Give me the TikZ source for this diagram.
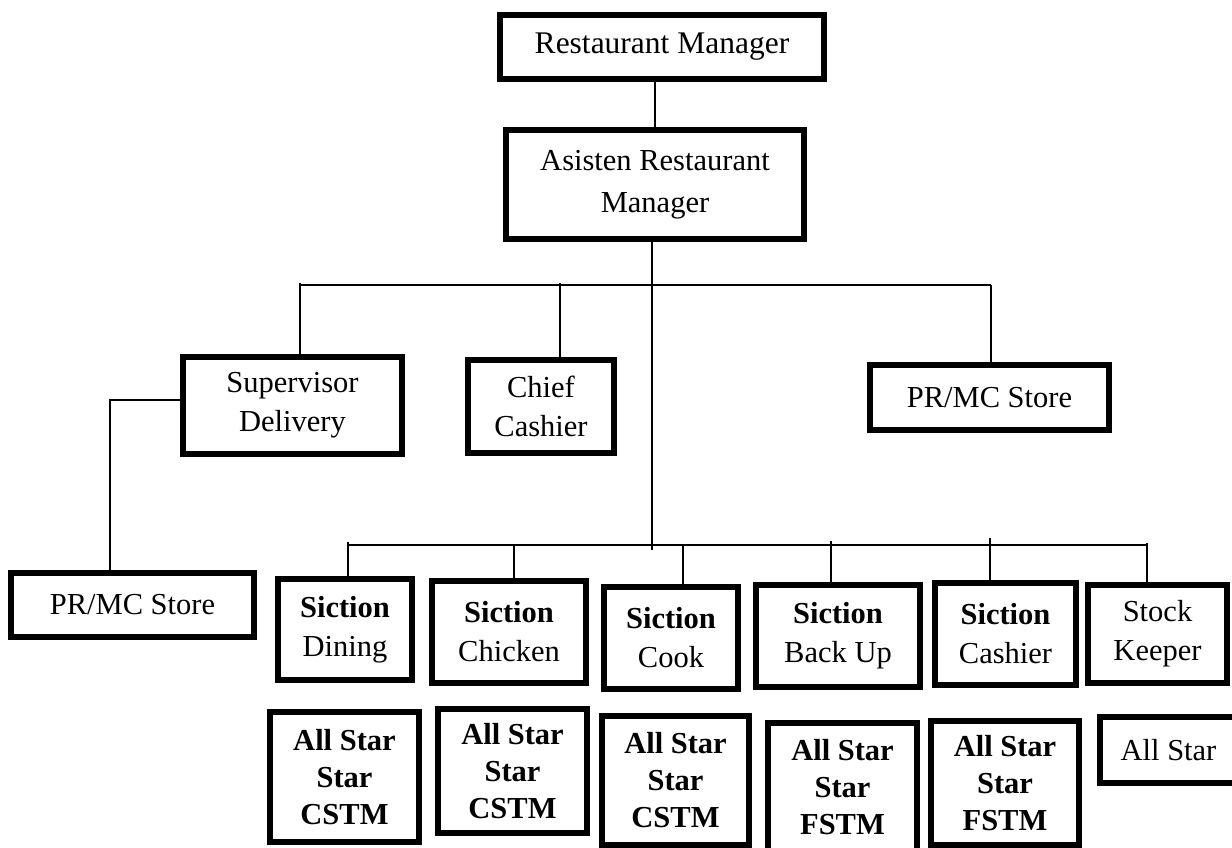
\documentclass[tikz,border=0pt]{standalone}
\usepackage{fontspec}
\setmainfont{Liberation Serif}
\begin{document}
\begin{tikzpicture}[x=1pt,y=-1pt,
  box/.style={draw=black,line width=6pt,fill=white,align=center,inner sep=0pt,
    font=\fontsize{30.5}{39}\selectfont},
  boldbox/.style={box,font=\fontsize{30.5}{37}\bfseries},
  conn/.style={line width=2pt}]
\useasboundingbox (0,0) rectangle (1232,847);
% nodes
\node[box,minimum width=324,minimum height=64,font=\fontsize{31.5}{37}\selectfont] (rm) at (662,47) {Restaurant Manager};
\node[box,minimum width=298,minimum height=109,font=\fontsize{30.5}{42}\selectfont] (arm) at (655,184.5) {Asisten Restaurant\\Manager};
\node[box,minimum width=219,minimum height=97] (sd) at (292.5,405.5) {Supervisor\\Delivery};
\node[box,minimum width=146,minimum height=93] (cc) at (541,406.5) {Chief\\Cashier};
\node[box,minimum width=239,minimum height=65] (prr) at (989.5,397.5) {PR/MC Store};
\node[box,minimum width=243,minimum height=64] (prl) at (132.5,605) {PR/MC Store};
\node[box,minimum width=134,minimum height=101] (sdin) at (345,629.5) {\textbf{Siction}\\Dining};
\node[box,minimum width=154,minimum height=102] (schk) at (509,632) {\textbf{Siction}\\Chicken};
\node[box,minimum width=134,minimum height=102] (scook) at (671,638) {\textbf{Siction}\\Cook};
\node[box,minimum width=164,minimum height=102] (sbu) at (838,636) {\textbf{Siction}\\Back Up};
\node[box,minimum width=141,minimum height=102] (scash) at (1005.5,634) {\textbf{Siction}\\Cashier};
\node[box,minimum width=139,minimum height=98] (sk) at (1157.5,634) {Stock\\Keeper};
\node[boldbox,minimum width=149,minimum height=130] (a1) at (344.5,777) {All Star\\Star\\CSTM};
\node[boldbox,minimum width=149,minimum height=124] (a2) at (512.5,771) {All Star\\Star\\CSTM};
\node[boldbox,minimum width=147,minimum height=129] (a3) at (675.5,780.5) {All Star\\Star\\CSTM};
\node[boldbox,minimum width=149,minimum height=129] (f1) at (842.5,787.5) {All Star\\Star\\FSTM};
\node[boldbox,minimum width=148,minimum height=124] (f2) at (1005,783) {All Star\\Star\\FSTM};
\node[box,minimum width=137,minimum height=66] (as) at (1168.5,750) {All Star};
% bus coordinates
\coordinate (b1l) at (300,283);
\coordinate (b1r) at (991,285);
\coordinate (t1) at (652,285);
\coordinate (t2) at (652,550);
\coordinate (c1) at (560,283);
\coordinate (e1) at (110,400);
\coordinate (b2l) at (348,542);
\coordinate (b2r) at (1147,543);
\coordinate (d2) at (514,545);
\coordinate (d3) at (683,545);
\coordinate (d4) at (831,541);
\coordinate (d5) at (990,538);
% connectors
\draw[conn] (rm.south -| arm.north) -- (arm.north);
\draw[conn] (arm.south -| t1) -- (t2);
\draw[conn] (300,285) -- (b1r);
\draw[conn] (b1l) -- (b1l |- sd.north);
\draw[conn] (c1) -- (c1 |- cc.north);
\draw[conn] (b1r) -- (b1r |- prr.north);
\draw[conn] (sd.west |- e1) -- (e1) -- (e1 |- prl.north);
\draw[conn] (348,545) -- (1147,545);
\draw[conn] (b2l) -- (b2l |- sdin.north);
\draw[conn] (d2) -- (d2 |- schk.north);
\draw[conn] (d3) -- (d3 |- scook.north);
\draw[conn] (d4) -- (d4 |- sbu.north);
\draw[conn] (d5) -- (d5 |- scash.north);
\draw[conn] (b2r) -- (b2r |- sk.north);
\end{tikzpicture}
\end{document}
